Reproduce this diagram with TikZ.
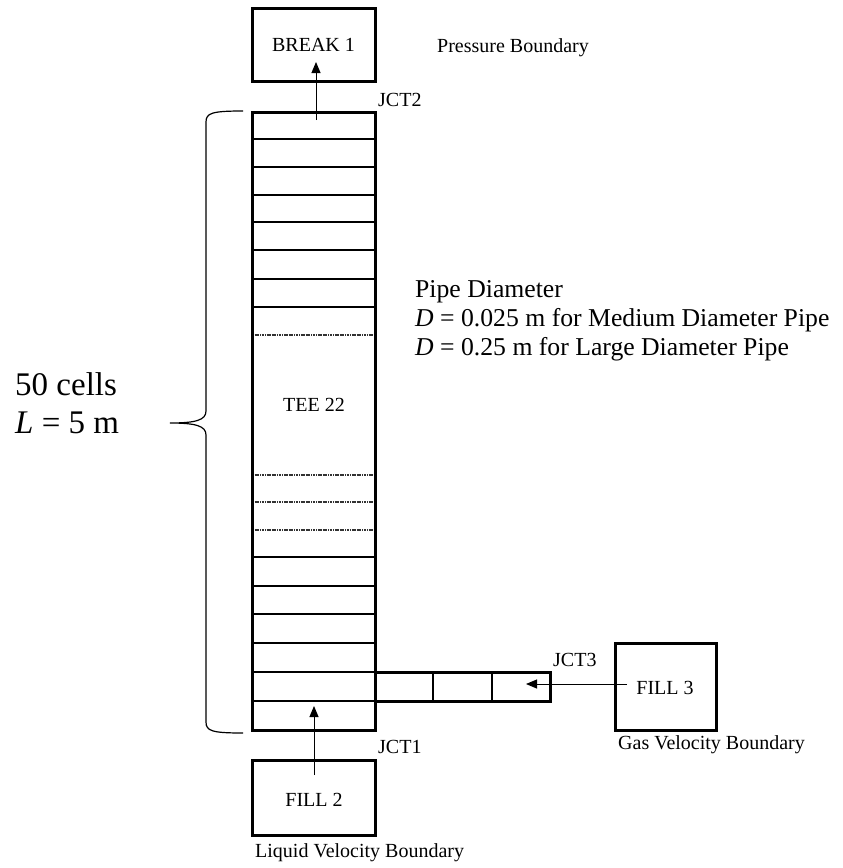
\documentclass[tikz,border=0pt]{standalone}
\usepackage{fontspec}
\setmainfont{Liberation Serif}
\usetikzlibrary{arrows.meta}

\begin{document}
\begin{tikzpicture}[x=1pt,y=-1pt,
  compbox/.style={draw,line width=3pt,minimum width=123pt,inner sep=0pt},
  lbl/.style={font=\fontsize{20}{24}\selectfont,inner sep=0pt},
  cellline/.style={line width=2pt},
  hatchline/.style={line width=2.2pt,draw=black!80,dash pattern=on 1.2pt off 0.5pt},
  flow/.style={line width=1pt,-{Triangle[length=11pt,width=9pt]}},
  bigtxt/.style={font=\fontsize{33}{38}\selectfont,inner sep=0pt,anchor=base west},
  midtxt/.style={font=\fontsize{25.7}{29}\selectfont,inner sep=0pt,anchor=base west}]
\useasboundingbox (0,0) rectangle (843,868);

% boundary components
\node[compbox,minimum height=73pt] (break1) at (313.5,45) {};
\node[lbl] at (break1.center) {BREAK 1};
\node[compbox,minimum height=75pt] (fill2) at (313.5,797.5) {};
\node[lbl] at (314,800) {FILL 2};
\node[compbox,minimum width=101pt,minimum height=87pt] (fill3) at (665.5,686.5) {};
\node[lbl] at (665,688) {FILL 3};

% vertical pipe: cell dividers
\foreach \yy in {139,167,195,222,250,279,307,557,586,614,643,672,701}
  \draw[cellline] (252,\yy) -- (375,\yy);
\foreach \yy in {335,475,502,530}
  \draw[hatchline] (253,\yy) -- (374,\yy);
\node[lbl] (tee) at (314,405) {TEE 22};

% side pipe
\draw[cellline] (433,672) -- (433,701);
\draw[cellline] (492,672) -- (492,701);
\draw[line width=3pt] (375,672) rectangle (550,701);

% pipe outline
\draw[line width=3pt] (252,112) rectangle (375,730);

% junction flow arrows
\coordinate (jct2a) at (316,120);
\coordinate (jct2b) at (316,62);
\draw[flow] (jct2a) -- (jct2b);
\coordinate (jct1a) at (314,775);
\coordinate (jct1b) at (314,706);
\draw[flow] (jct1a) -- (jct1b);
\coordinate (jct3a) at (627,684);
\coordinate (jct3b) at (526,684);
\draw[flow] (jct3a) -- (jct3b);

% labels
\node[lbl,anchor=west] at (437,48) {Pressure Boundary};
\node[lbl,anchor=west] at (378,100) {JCT2};
\node[lbl,anchor=west] at (553,660) {JCT3};
\node[lbl,anchor=west] at (378,747) {JCT1};
\node[lbl,anchor=west] at (618,745) {Gas Velocity Boundary};
\node[lbl,anchor=west] at (255,853) {Liquid Velocity Boundary};

\node[midtxt] at (415,297) {Pipe Diameter};
\node[midtxt] at (415,326) {\textit{D} = 0.025 m for Medium Diameter Pipe};
\node[midtxt] at (415,355) {\textit{D} = 0.25 m for Large Diameter Pipe};

\node[bigtxt] at (15,395) {50 cells};
\node[bigtxt] at (15,433) {\textit{L} = 5 m};

% brace spanning the 50 cells
\draw[line width=1.2pt]
  (243,111) .. controls (212,111) and (206,113) .. (206,122)
  -- (206,411) .. controls (206,420) and (196,423) .. (170,423)
  .. controls (196,423) and (206,426) .. (206,435)
  -- (206,722) .. controls (206,731) and (212,733) .. (243,733);
\end{tikzpicture}
\end{document}
